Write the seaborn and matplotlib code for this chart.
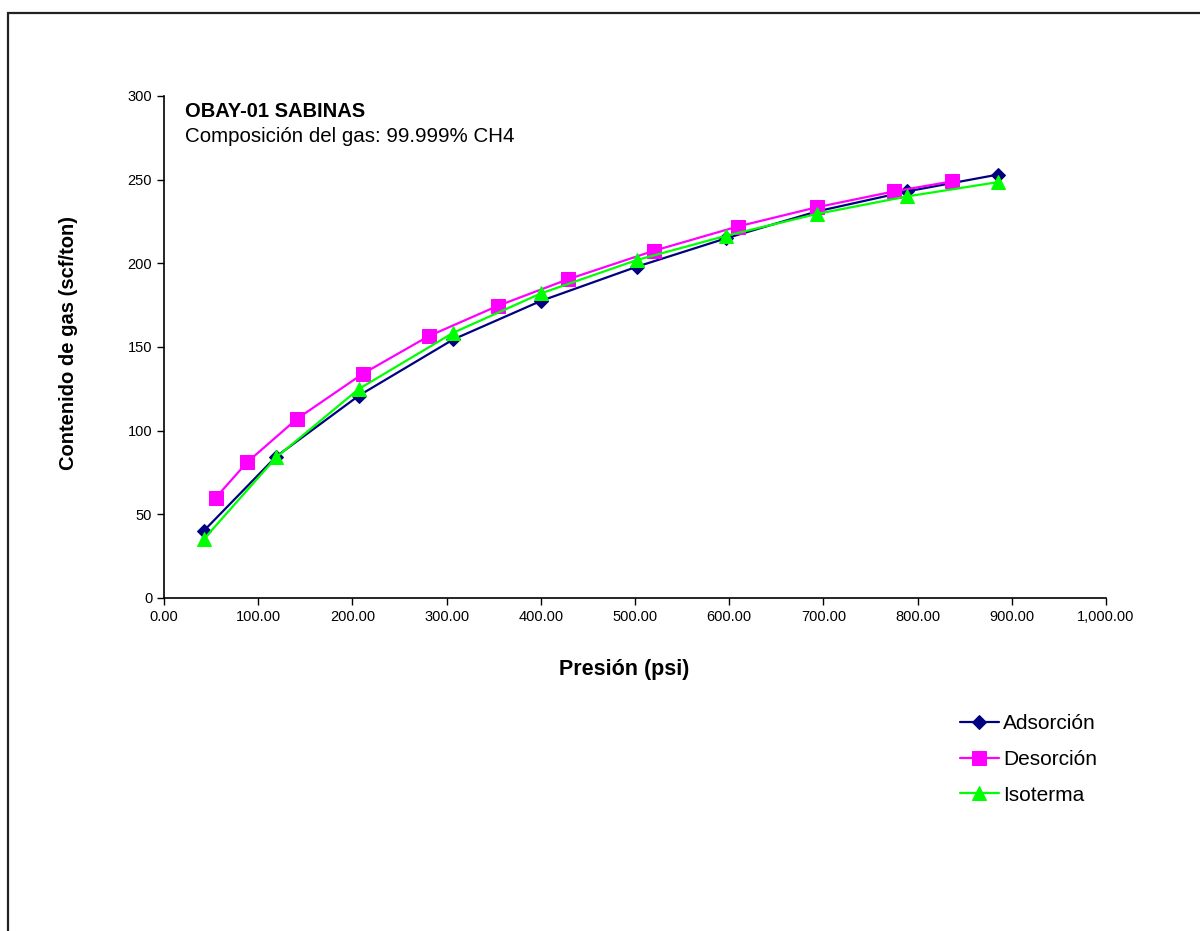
import numpy as np
import pandas as pd
import seaborn as sns
import matplotlib.pyplot as plt
from matplotlib.ticker import FuncFormatter, MultipleLocator
from matplotlib.patches import Rectangle

# datos
ads_p = [42, 119, 207, 307, 400, 502, 597, 693, 789, 885]
ads_g = [40, 84.5, 121, 154.5, 177.5, 198, 215, 231, 243, 253]

des_p = [55, 88, 141, 211, 281, 354, 429, 520, 609, 693, 775, 837]
des_g = [60, 81, 107, 134, 156.5, 174.5, 190.5, 207.5, 222, 233.5, 243, 249]

iso_p = [42, 119, 207, 307, 400, 502, 597, 693, 789, 885]
iso_g = [35, 84, 125, 158.5, 182, 202, 216.5, 229.5, 240, 248.5]

sns.set_style('white')
plt.rcParams['font.family'] = ['Liberation Sans', 'DejaVu Sans']
plt.rcParams['text.color'] = 'black'
plt.rcParams['axes.labelcolor'] = 'black'

fig = plt.figure(figsize=(12, 9.31), dpi=100)
ax = fig.add_axes([0.1367, 0.3577, 0.785, 0.5392])

series = [
    ('Adsorción', ads_p, ads_g, '#000080', 'D', 7),
    ('Desorción', des_p, des_g, '#FF00FF', 's', 10),
    ('Isoterma', iso_p, iso_g, '#00FF00', '^', 10),
]
for name, p, g, col, mk, ms in series:
    df = pd.DataFrame({'p': p, 'g': g})
    sns.lineplot(data=df, x='p', y='g', ax=ax, color=col, marker=mk,
                 markersize=ms, markeredgecolor=col, linewidth=1.6,
                 sort=False, estimator=None, label=name)

ax.set_xlim(0, 1000)
ax.set_ylim(0, 300)
ax.xaxis.set_major_locator(MultipleLocator(100))
ax.yaxis.set_major_locator(MultipleLocator(50))
ax.xaxis.set_major_formatter(FuncFormatter(lambda v, pos: '{:,.2f}'.format(v)))
ax.tick_params(axis='both', direction='out', length=5, width=1,
               labelsize=10.5, colors='black', left=True, bottom=True)
for s in ['top', 'right']:
    ax.spines[s].set_visible(False)
for s in ['left', 'bottom']:
    ax.spines[s].set_color('black')
    ax.spines[s].set_linewidth(1.2)

ax.set_xlabel('Presión (psi)', fontsize=15.5, fontweight='bold', labelpad=25, x=0.488)
ax.set_ylabel('Contenido de gas (scf/ton)', fontsize=14.5, fontweight='bold',
              labelpad=36, y=0.508)

ax.text(0.022, 0.988, 'OBAY-01 SABINAS', transform=ax.transAxes,
        fontsize=14.5, fontweight='bold', va='top')
ax.text(0.022, 0.938, 'Composición del gas: 99.999% CH4', transform=ax.transAxes,
        fontsize=14.8, va='top')

ax.legend(loc='upper left', bbox_to_anchor=(0.784, 0.253),
          bbox_transform=fig.transFigure, frameon=False, fontsize=15,
          handlelength=1.9, labelspacing=0.8, handletextpad=0.2)

# marco exterior
fig.patches.append(Rectangle((0.0067, -0.05), 1.1, 1.036, transform=fig.transFigure,
                             fill=False, edgecolor='#222222', linewidth=1.6))

fig.savefig('out.png', dpi=100)
